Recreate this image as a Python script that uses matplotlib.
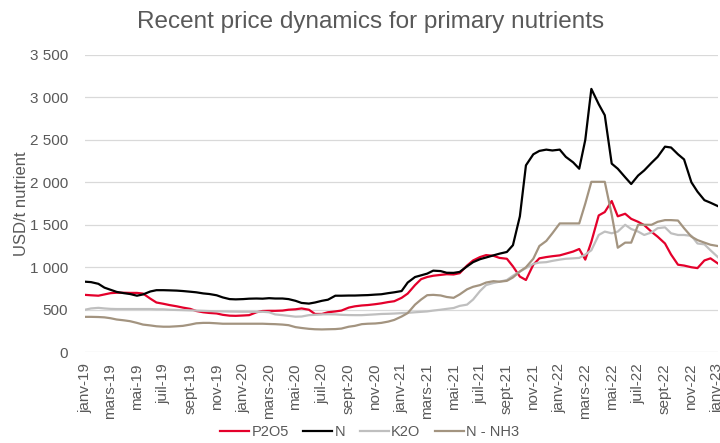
import numpy as np
import pandas as pd
import matplotlib
matplotlib.use("Agg")
import matplotlib.pyplot as plt
from matplotlib.ticker import FuncFormatter

plt.rcParams['font.family'] = ['Liberation Sans', 'DejaVu Sans']

# semi-monthly points, Jan 2019 -> Jan 2023
dates = pd.date_range("2019-01-01", "2023-01-01", freq="SMS")

p2o5 = [675, 670, 665, 680, 695, 700, 700, 698, 698, 690,
        630, 585, 570, 555, 540, 525, 510, 485, 470, 462,
        456, 440, 430, 428, 432, 436, 470, 485, 487, 487,
        490, 500, 505, 515, 500, 450, 450, 470, 480, 490,
        525, 540, 550, 555, 565, 575, 590, 600, 640, 690,
        790, 860, 885, 900, 910, 918, 915, 930, 1020, 1080,
        1120, 1143, 1135, 1110, 1100, 1010, 890, 850, 1030, 1105,
        1120, 1130, 1140, 1160, 1185, 1215, 1090, 1300, 1610, 1650,
        1780, 1600, 1630, 1570, 1535, 1496, 1417, 1360, 1280, 1150,
        1030, 1020, 1000, 990, 1080, 1105, 1045]

n = [830, 825, 805, 760, 735, 710, 695, 685, 665, 680,
     715, 730, 730, 728, 725, 720, 712, 705, 692, 685,
     670, 645, 625, 622, 625, 630, 632, 630, 636, 632,
     632, 625, 605, 580, 572, 585, 605, 618, 665, 665,
     667, 667, 670, 672, 678, 682, 695, 705, 720, 820,
     885, 905, 925, 960, 955, 935, 934, 945, 1010, 1060,
     1095, 1115, 1140, 1160, 1180, 1260, 1600, 2200, 2330, 2370,
     2385, 2375, 2385, 2300, 2235, 2160, 2500, 3100, 2920, 2790,
     2220, 2160, 2060, 1980, 2080, 2140, 2230, 2300, 2420, 2410,
     2330, 2270, 2000, 1890, 1790, 1760, 1720]

k2o = [500, 515, 522, 515, 510, 508, 508, 508, 508, 508,
       508, 505, 505, 500, 497, 495, 492, 490, 487, 484,
       481, 480, 478, 477, 476, 476, 475, 476, 470, 445,
       436, 428, 418, 420, 436, 440, 445, 446, 445, 440,
       437, 436, 436, 440, 445, 450, 452, 455, 460, 463,
       470, 475, 480, 490, 500, 510, 520, 545, 560, 620,
       720, 790, 815, 830, 850, 900, 950, 990, 1040, 1055,
       1060, 1075, 1090, 1100, 1105, 1110, 1150, 1200, 1380, 1420,
       1400, 1420, 1500, 1450, 1420, 1380, 1410, 1460, 1470, 1400,
       1380, 1380, 1370, 1280, 1270, 1200, 1120]

n_nh3 = [416, 416, 414, 410, 400, 385, 375, 365, 345, 325,
         315, 305, 300, 300, 305, 310, 325, 340, 345, 345,
         340, 335, 335, 335, 335, 335, 335, 335, 332, 330,
         325, 318, 295, 285, 275, 270, 268, 270, 272, 278,
         300, 310, 330, 335, 338, 345, 360, 380, 420, 460,
         560, 620, 671, 675, 668, 650, 640, 680, 740, 770,
         790, 820, 836, 830, 840, 880, 950, 1000, 1100, 1250,
         1310, 1400, 1516, 1516, 1516, 1516, 1750, 2006, 2006, 2006,
         1620, 1230, 1290, 1290, 1500, 1500, 1500, 1535, 1555, 1555,
         1550, 1460, 1360, 1320, 1290, 1265, 1250]

series = [("P2O5", p2o5, "#e4002b"),
          ("N", n, "#000000"),
          ("K2O", k2o, "#bfbfbf"),
          ("N - NH3", n_nh3, "#a39480")]

months_fr = ["janv", "févr", "mars", "avr", "mai", "juin",
             "juil", "août", "sept", "oct", "nov", "déc"]
tick_dates = pd.date_range("2019-01-01", "2023-01-01", freq="2MS")
tick_labels = [f"{months_fr[d.month - 1]}-{d.strftime('%y')}" for d in tick_dates]

fig = plt.figure(figsize=(7.2, 4.43), dpi=100)
ax = fig.add_axes([0.118, 0.205, 0.879, 0.671])

for label, vals, color in series:
    ax.plot(dates, vals, color=color, linewidth=1.6, label=label)

ax.set_ylim(0, 3500)
ax.set_yticks(np.arange(0, 3501, 500))
ax.yaxis.set_major_formatter(FuncFormatter(lambda v, p: f"{int(v):,}".replace(",", " ")))
ax.set_xlim(dates[0], dates[-1])
ax.set_xticks(tick_dates)
ax.set_xticklabels(tick_labels, rotation=90)

ax.grid(axis="y", color="#d9d9d9", linewidth=0.9)
ax.set_axisbelow(True)
for s in ["top", "right", "left", "bottom"]:
    ax.spines[s].set_visible(False)
ax.tick_params(axis="both", length=0, labelsize=11, colors="#595959")
ax.tick_params(axis="y", pad=12)
ax.tick_params(axis="x", pad=8)

ax.set_ylabel("USD/t nutrient", fontsize=12, color="#595959", labelpad=1)
fig.suptitle("Recent price dynamics for primary nutrients", fontsize=17.5,
             color="#595959", x=0.514, y=0.975)

ax.legend(loc="center", bbox_to_anchor=(0.45, -0.27), ncol=4,
          frameon=False, fontsize=10.5, handlelength=2.0, handletextpad=0.15,
          columnspacing=1.0, labelcolor="#595959")

fig.savefig("out.png", dpi=100)
